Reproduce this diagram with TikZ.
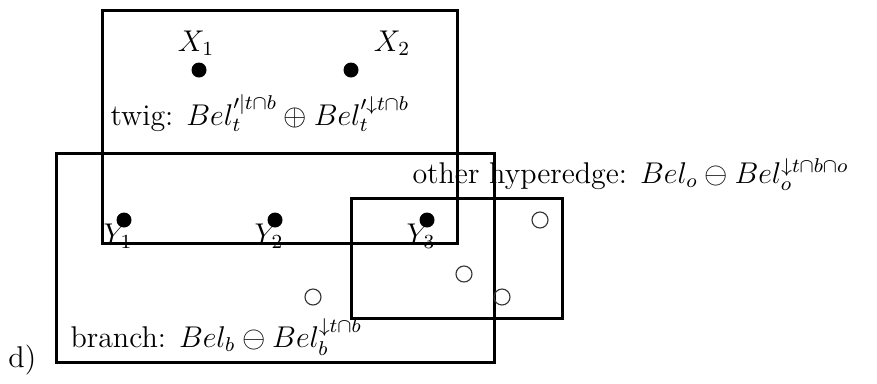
\documentclass[tikz,border=0pt]{standalone}
\usepackage{amssymb}
\begin{document}
\begin{tikzpicture}[
    x=0.4pt, y=-0.4pt,
    every node/.style={inner sep=0pt, font=\large}
]

\tikzset{full/.style={circle, fill=black, minimum size=6pt},
         empty/.style={circle, draw=black!80, line width=0.45pt, minimum size=6.4pt},
         hedge/.style={draw=black, line width=1.2pt}}

\useasboundingbox (0,0) rectangle (877,383);

% ================= boxes =================

\draw[hedge] (102,10) rectangle (457,243);
\draw[hedge] (56,153) rectangle (494,362);
\draw[hedge] (351,198) rectangle (562,318);

% ================= points =================

\node[full]  (x1) at (199,70)  {};
\node[full]  (x2) at (351,70)  {};
\node[full]  (y1) at (124,220) {};
\node[full]  (y2) at (275,220) {};
\node[full]  (y3) at (427,220) {};

\node[empty] (o1) at (540,220) {};
\node[empty] (o2) at (464,274) {};
\node[empty] (o3) at (313,297) {};
\node[empty] (o4) at (502,297) {};

% ================= labels =================

\node (lx1) at (196,43)  {$X_1$};
\node (lx2) at (392,43)  {$X_2$};
\node (ly1) at (118,236) {$Y_1$};
\node (ly2) at (269,236) {$Y_2$};
\node (ly3) at (421,236) {$Y_3$};

\node[anchor=base west] (twig)   at (110,125) {twig: $Bel'^{|t\cap b}_t \oplus Bel'^{\downarrow t\cap b}_t$};
\node[anchor=base west] (other)  at (412,183) {other hyperedge: $Bel_o \ominus Bel_o^{\downarrow t\cap b\cap o}$};
\node[anchor=base west] (branch) at (70,347)  {branch: $Bel_b \ominus Bel_b^{\downarrow t\cap b}$};
\node[anchor=base west] (tag)    at (8,367)   {d)};

\end{tikzpicture}
\end{document}
